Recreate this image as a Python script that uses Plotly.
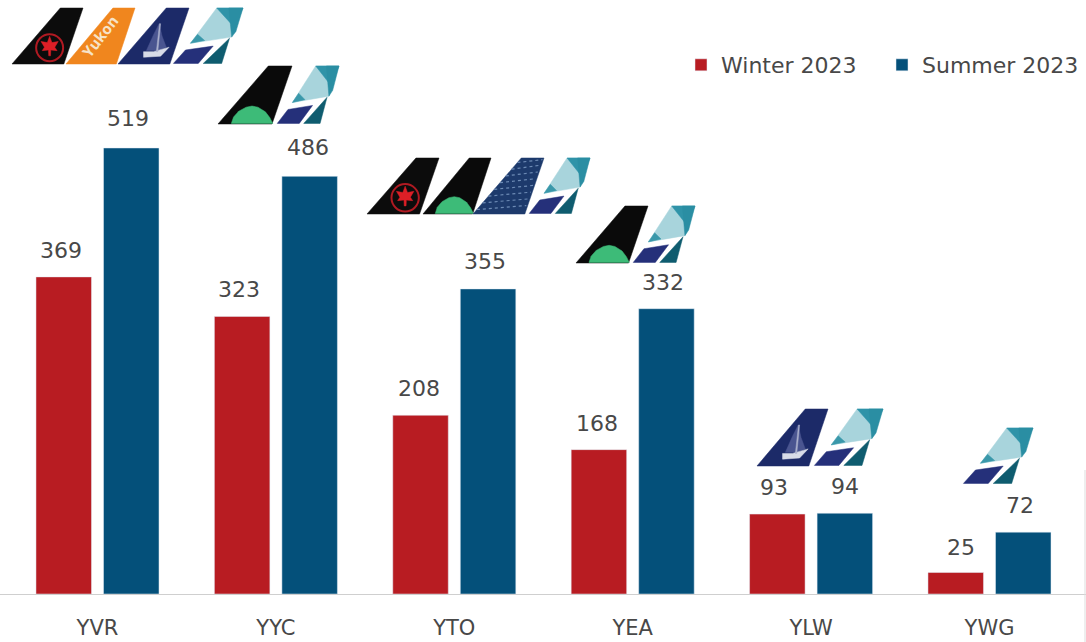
import plotly.graph_objects as go

categories = ["YVR", "YYC", "YTO", "YEA", "YLW", "YWG"]
winter = [369, 323, 208, 168, 93, 25]
summer = [519, 486, 355, 332, 94, 72]

W, H, BASE = 1086, 642, 594
RED, BLUE, TXT = "#b81c22", "#04507a", "#484848"
FONT = "DejaVu Sans"


def px(x): return x / W
def py(y): return (BASE - y) / BASE


shapes = []


def poly(x0, x1, y0, y1, pts, color, line=None, width=0.5):
    """pts in tail-local units; (x0,x1) left/right px, y0 top px, y1 bottom px."""
    w, h = x1 - x0, y1 - y0
    p = [(px(x0 + u * w), py(y1 - v * h)) for u, v in pts]
    path = "M" + " L".join(f"{a:.5f},{b:.5f}" for a, b in p) + " Z"
    shapes.append(dict(type="path", xref="paper", yref="paper", path=path, fillcolor=color,
                       line=dict(color=line or color, width=width)))


TAIL = [(0, 0), (0.68, 1), (1, 1), (0.73, 0)]


def circle(cx, cy, r, fill, line, width):
    shapes.append(dict(type="circle", xref="paper", yref="paper", x0=px(cx - r), x1=px(cx + r),
                       y0=py(cy + r), y1=py(cy - r), fillcolor=fill, line=dict(color=line, width=width)))


def air_canada(x0, x1, y0, y1):
    poly(x0, x1, y0, y1, TAIL, "#0c0c0c")
    w, h = x1 - x0, y1 - y0
    cx, cy, r = x0 + 0.53 * w, y1 - 0.29 * h, 0.19 * w
    circle(cx, cy, r, "#0c0c0c", "#b01a22", 2)
    star = [(0, 1), (.2, .45), (.75, .55), (.45, .05), (.65, -.25), (.1, -.2), (.08, -.7),
            (-.08, -.7), (-.1, -.2), (-.65, -.25), (-.45, .05), (-.75, .55), (-.2, .45)]
    pts = [((cx + a * r * 0.85 - x0) / w, (y1 - cy + b * r * 0.85) / h) for a, b in star]
    poly(x0, x1, y0, y1, pts, "#dc1f26")


def green(x0, x1, y0, y1):
    poly(x0, x1, y0, y1, TAIL, "#0a0a0a")
    dome = [(.18, .01), (.21, .12), (.28, .22), (.38, .29), (.46, .31), (.54, .29), (.64, .21),
            (.70, .11), (.74, .01)]
    poly(x0, x1, y0, y1, dome, "#3dbb78")


def yukon(x0, x1, y0, y1):
    poly(x0, x1, y0, y1, TAIL, "#f0861e")


def navy(x0, x1, y0, y1):
    poly(x0, x1, y0, y1, TAIL, "#1c2a68")
    sail = [(.40, .24), (.50, .52), (.58, .72), (.62, .50), (.68, .30), (.56, .24)]
    poly(x0, x1, y0, y1, sail, "#4a5590")
    hull = [(.36, .12), (.60, .14), (.72, .30), (.50, .22), (.36, .22)]
    poly(x0, x1, y0, y1, hull, "#d8dce8")
    mast = [(.54, .22), (.56, .22), (.60, .72), (.585, .72)]
    poly(x0, x1, y0, y1, mast, "#aab0cc")


def striped(x0, x1, y0, y1):
    poly(x0, x1, y0, y1, TAIL, "#1d3a6c")
    w, h = x1 - x0, y1 - y0
    for v in (.08, .2, .32, .44, .56, .68, .8, .92):
        a = (px(x0 + .68 * v * w), py(y1 - v * h))
        b = (px(x0 + (.73 + .27 * v) * w), py(y1 - (v + .07 if v < .9 else .97) * h))
        shapes.append(dict(type="line", xref="paper", yref="paper", x0=a[0], y0=a[1], x1=b[0], y1=b[1],
                           line=dict(color="#6d8bb5", width=1.2, dash="dot")))


def westjet(x0, x1, y0, y1):
    poly(x0, x1, y0, y1, [(.26, .37), (.63, 1), (1, 1), (.84, .48)], "#a8d4dc")
    poly(x0, x1, y0, y1, [(.63, 1), (1, 1), (.86, .68)], "#2f93a8")
    poly(x0, x1, y0, y1, [(.80, 1), (1, 1), (.90, .58), (.84, .48)], "#2a8ea3")
    poly(x0, x1, y0, y1, [(.26, .37), (.36, .53), (.46, .42)], "#3a98aa")
    poly(x0, x1, y0, y1, [(.02, .01), (.19, .25), (.58, .32), (.37, .01)], "#25307a")
    poly(x0, x1, y0, y1, [(.44, .01), (.81, .46), (.70, .01)], "#0f5c6f")


logos = [
    (air_canada, 12, 83, 8, 64), (yukon, 66, 135, 8, 64), (navy, 118, 189, 8, 64), (westjet, 172, 243, 8, 64),
    (green, 218, 292, 66, 124), (westjet, 276, 339, 66, 124),
    (air_canada, 367, 439, 158, 214), (green, 423, 491, 158, 214), (striped, 473, 544, 158, 214), (westjet, 528, 590, 158, 214),
    (green, 576, 648, 206, 263), (westjet, 632, 695, 206, 263),
    (navy, 757, 828, 409, 466), (westjet, 813, 883, 409, 466),
    (westjet, 962, 1033, 428, 484),
]
for fn, *box in logos:
    fn(*box)

# faint edge at the far right of the picture
shapes.append(dict(type="line", xref="paper", yref="paper", x0=px(1085), x1=px(1085), y0=py(470), y1=py(642),
                   line=dict(color="#dddddd", width=1)))

fig = go.Figure()
fig.add_bar(name="Winter 2023", x=categories, y=winter, marker_color=RED)
fig.add_bar(name="Summer 2023", x=categories, y=summer, marker_color=BLUE)

annotations = []
OFF = 0.189
nudge_w = [-3, -3, -2, -2, -3, 5]
nudge_s = [-3, -2, -3, -3, 0, -3]
lift_w = [12, 12, 12, 12, 12, 11]
lift_s = [15, 14, 13, 12, 12, 12]
for i in range(len(categories)):
    for val, sign, nudge, lift in ((winter[i], -1, nudge_w[i], lift_w[i]), (summer[i], 1, nudge_s[i], lift_s[i])):
        annotations.append(dict(x=i + sign * OFF, y=val, xref="x", yref="y", text=str(val), showarrow=False,
                                yanchor="bottom", yshift=lift, xshift=nudge,
                                font=dict(family=FONT, size=22, color=TXT)))
annotations.append(dict(x=px(100), y=py(36), xref="paper", yref="paper", text="<b>Yukon</b>", showarrow=False,
                        xanchor="center", yanchor="middle", textangle=-52,
                        font=dict(family="Open Sans", size=15, color="#f6e3c8")))

fig.update_layout(
    width=W, height=H, margin=dict(l=0, r=0, t=0, b=H - BASE, pad=0, autoexpand=False),
    paper_bgcolor="white", plot_bgcolor="white",
    barmode="group", bargap=0.243, bargroupgap=0.178,
    font=dict(family=FONT, color=TXT),
    xaxis=dict(type="category", range=[-0.5465, 5.541], showline=True, linecolor="#cfcfcf", linewidth=1,
               showgrid=False, ticks="", tickfont=dict(family=FONT, size=21, color=TXT), ticklabelstandoff=15),
    yaxis=dict(range=[0, 691.2], visible=False),
    legend=dict(orientation="h", x=681 / W, xanchor="left", y=py(44), yanchor="top",
                font=dict(family=FONT, size=22, color=TXT), traceorder="normal",
                entrywidth=156, entrywidthmode="pixels", bgcolor="rgba(0,0,0,0)"),
    shapes=shapes, annotations=annotations,
)
fig.write_html("out.html", post_script="document.body.style.margin='0';", config={"displayModeBar": False})
